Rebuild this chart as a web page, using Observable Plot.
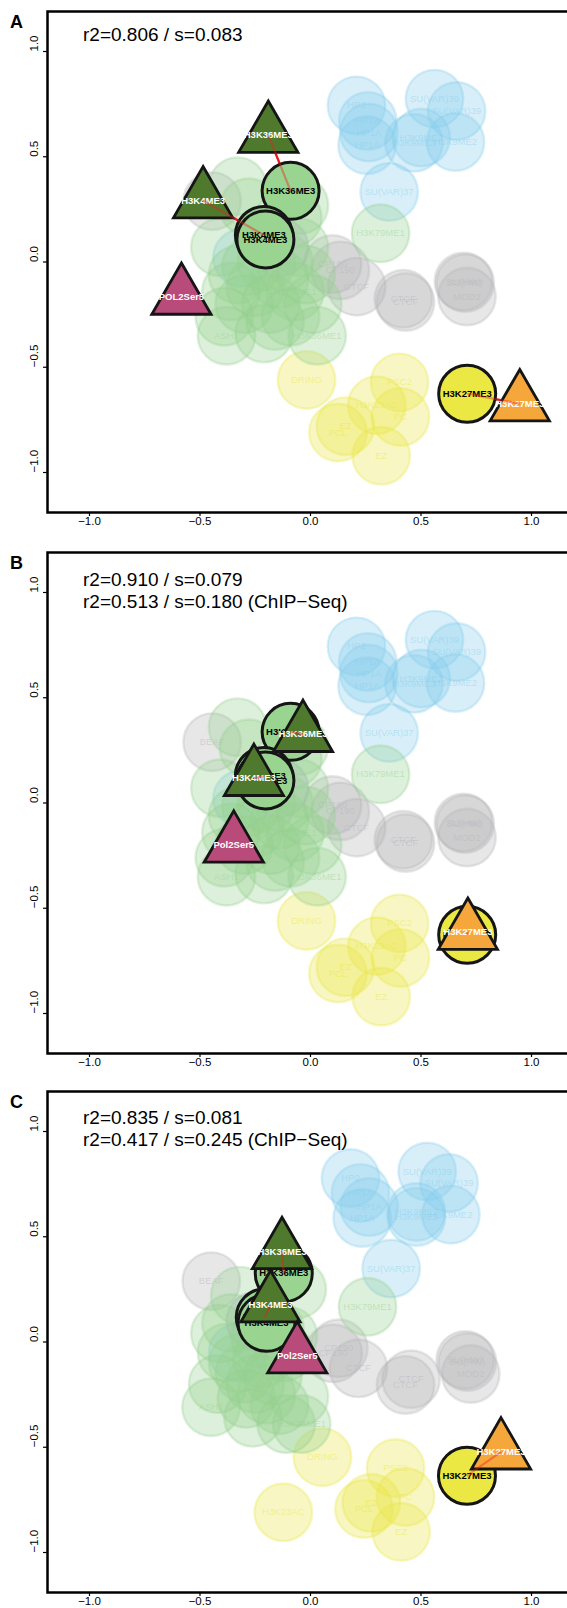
<!DOCTYPE html>
<html><head><meta charset="utf-8">
<script src="https://cdn.jsdelivr.net/npm/d3@7"></script>
<script src="https://cdn.jsdelivr.net/npm/@observablehq/plot@0.6"></script>
<style>
html,body{margin:0;padding:0;background:#fff;overflow:hidden;}
#wrap{position:relative;width:567px;height:1608px;overflow:hidden;background:#fff;}
.panel{position:absolute;left:0;width:567px;height:541px;overflow:hidden;}
.panel svg{max-width:none !important;}
</style></head><body><div id="wrap"></div>
<script>
// ---------- axis ticks ----------
const tickValues = [-1, -0.5, 0, 0.5, 1];
const tickLabels = ["\u22121.0", "\u22120.5", "0.0", "0.5", "1.0"];

// ---------- panel texts ----------
const panelLetters = ["A", "B", "C"];
const statsA = ["r2=0.806 / s=0.083"];
const statsB = ["r2=0.910 / s=0.079", "r2=0.513 / s=0.180 (ChIP\u2212Seq)"];
const statsC = ["r2=0.835 / s=0.081", "r2=0.417 / s=0.245 (ChIP\u2212Seq)"];

// ---------- background factors, embedding of panels A and B ----------
const bgLabelAB = ["HP2","HP1A","HP1A","HP1A","SU(VAR)39","SU(VAR)39","H3K9ME2","H3K9ME3","H3K9ME2","SU(VAR)37","",
  "BEAF","CP190","CP190","CTCF","CTCF","CTCF","SU(HW)","SU(HW)","MOD2",
  "DRING","PSC2","H3K23AC","PC","EZ","PCL","EZ",
  "",
  "H3K79ME1","","","","","","","","DSP1","PHO","H3K4ME1","","","","ASH1","","H3K36ME1","","","","","","","",""];
const bgGroupAB = ["blue","blue","blue","blue","blue","blue","blue","blue","blue","blue","blue",
  "grey","grey","grey","grey","grey","grey","grey","grey","grey",
  "yellow","yellow","yellow","yellow","yellow","yellow","yellow",
  "purple",
  "green","green","green","green","green","green","green","green","green","green","green","green","green","green","green","green","green","green","green","green","green","green","green","green","green"];
const bgXAB = [0.208,0.259,0.264,0.256,0.561,0.661,0.501,0.468,0.656,0.356,-0.31,
  -0.445,0.10,0.135,0.209,0.42,0.43,0.692,0.70,0.708,
  -0.018,0.403,0.30,0.407,0.158,0.124,0.32,
  -0.14,
  0.317,-0.33,-0.28,-0.05,-0.08,-0.41,-0.05,-0.33,-0.14,-0.25,-0.07,-0.18,-0.39,0.01,-0.38,-0.21,0.03,-0.09,-0.27,-0.20,-0.12,-0.36,-0.16,-0.30,-0.02];
const bgYAB = [0.744,0.670,0.615,0.555,0.776,0.717,0.591,0.566,0.570,0.333,0.02,
  0.289,-0.01,-0.04,-0.117,-0.175,-0.19,-0.093,-0.10,-0.164,
  -0.56,-0.572,-0.68,-0.736,-0.78,-0.81,-0.92,
  0.07,
  0.136,0.36,0.26,0.27,0.21,0.07,0.07,-0.06,-0.08,-0.12,-0.14,-0.20,-0.26,-0.20,-0.35,-0.34,-0.35,-0.26,-0.02,0.0,0.0,-0.14,-0.28,-0.20,-0.06];

// ---------- background factors, embedding of panel C ----------
const bgLabelC = ["HP2","HP1A","HP1A","HP1A","SU(VAR)39","SU(VAR)39","H3K9ME2","H3K9ME3","H3K9ME2","SU(VAR)37","",
  "BEAF","CP190","CP190","CTCF","CTCF","CTCF","SU(HW)","SU(HW)","MOD2",
  "DRING","PSC2","H3K23AC","PC","EZ","PCL","EZ",
  "",
  "H3K79ME1","","","","","PHO","","H3K4ME1","ASH1","","","","H3K36ME1","","","","DSP1","","","","","","",""];
const bgGroupC = ["blue","blue","blue","blue","blue","blue","blue","blue","blue","blue","blue",
  "grey","grey","grey","grey","grey","grey","grey","grey","grey",
  "yellow","yellow","yellow","yellow","yellow","yellow","yellow",
  "purple",
  "green","green","green","green","green","green","green","green","green","green","green","green","green","green","green","green","green","green","green","green","green","green","green","green"];
const bgXC = [0.181,0.226,0.266,0.234,0.528,0.627,0.479,0.479,0.635,0.365,-0.33,
  -0.449,0.128,0.103,0.217,0.455,0.43,0.70,0.71,0.725,
  0.054,0.385,-0.123,0.43,0.275,0.242,0.41,
  -0.25,
  0.258,-0.32,-0.06,-0.41,-0.10,-0.33,-0.42,-0.17,-0.45,-0.29,-0.26,-0.11,-0.04,-0.05,-0.23,-0.16,-0.22,-0.36,-0.12,-0.20,-0.30,-0.38,-0.14,-0.25];
const bgYC = [0.779,0.708,0.641,0.589,0.81,0.755,0.618,0.594,0.605,0.349,-0.05,
  0.289,-0.03,-0.054,-0.125,-0.177,-0.204,-0.085,-0.095,-0.152,
  -0.547,-0.599,-0.809,-0.736,-0.764,-0.793,-0.902,
  0.10,
  0.167,0.22,0.25,0.04,0.03,-0.10,-0.20,-0.16,-0.31,-0.27,-0.36,-0.39,-0.39,-0.26,0.02,0.06,-0.08,0.09,-0.05,-0.25,-0.15,-0.05,-0.30,-0.20];

// ---------- highlighted factors (circles) ----------
const hlCircleLabel = ["H3K36ME3","H3K4ME3","H3K4ME3","H3K27ME3"];
const hlCircleGroup = ["green","green","green","yellow"];
const hlCircleXAB = [-0.09,-0.211,-0.204,0.709];
const hlCircleYAB = [0.338,0.128,0.107,-0.626];
const hlCircleXC = [-0.121,-0.207,-0.199,0.708];
const hlCircleYC = [0.326,0.117,0.091,-0.635];

// ---------- projected ChIP profiles (triangles) ----------
const triLabelA = ["H3K36ME3","H3K4ME3","POL2Ser5","H3K27ME3"];
const triLabelBC = ["H3K36ME3","H3K4ME3","Pol2Ser5","H3K27ME3"];
const triGroup = ["dkgreen","dkgreen","magenta","orange"];
const triXA = [-0.191,-0.486,-0.584,0.947];
const triYA = [0.602,0.291,-0.167,-0.673];
const triXB = [-0.034,-0.256,-0.347,0.712];
const triYB = [0.326,0.117,-0.2,-0.614];
const triXC = [-0.129,-0.181,-0.06,0.862];
const triYC = [0.43,0.177,-0.065,-0.522];
const linkTri = [0,1,3];
const linkCircle = [0,1,3];

// ---------- colours ----------
const bgColor = {blue:"#87CEEB", grey:"#b4b4b9", yellow:"#e9e645", purple:"#a898d8", green:"#96d18f"};
const hlColor = {green:"#99d491", yellow:"#ebe843"};
const triColor = {dkgreen:"#4f7a2d", magenta:"#b94b7b", orange:"#f6a73b"};

const FONT = "'Liberation Sans', Arial, Helvetica, sans-serif";

function makePanel(letter, stats, statDy, bgL, bgG, bgX, bgY, cX, cY, tL, tX, tY) {
  const bg = bgL.map((l, i) => ({label: l, color: bgColor[bgG[i]], x: bgX[i], y: bgY[i]}));
  const circles = hlCircleLabel.map((l, i) => ({label: l, color: hlColor[hlCircleGroup[i]], x: cX[i], y: cY[i]}));
  const tris = tL.map((l, i) => ({label: l, color: triColor[triGroup[i]], x: tX[i], y: tY[i]}));
  const links = linkTri.map((t, i) => ({x1: tX[t], y1: tY[t], x2: cX[linkCircle[i]], y2: cY[linkCircle[i]]}));
  const marks = [
    Plot.dot(bg, {x: "x", y: "y", r: 28.8, fill: "color", fillOpacity: 0.32, stroke: "color", strokeOpacity: 0.32, strokeWidth: 2.4}),
    Plot.text(bg, {x: "x", y: "y", text: "label", fill: "color", fillOpacity: 0.45, fontSize: 9.5}),
    Plot.link(links, {x1: "x1", y1: "y1", x2: "x2", y2: "y2", stroke: "#ee1c1c", strokeWidth: 2.2}),
    Plot.dot(circles, {x: "x", y: "y", r: 28.5, fill: "color", stroke: "#151515", strokeWidth: 3}),
    Plot.text(circles, {x: "x", y: "y", text: "label", fill: "black", fontWeight: "bold", fontSize: 9.5}),
    Plot.dot(tris, {x: "x", y: "y", r: 22, symbol: "triangle", fill: "color", stroke: "#151515", strokeWidth: 2.8, strokeLinejoin: "miter"}),
    Plot.text(tris, {x: "x", y: "y", text: "label", fill: "white", fontWeight: "bold", fontSize: 9.5}),
    Plot.link(links, {x1: "x1", y1: "y1", x2: "x2", y2: "y2", stroke: "#ee1c1c", strokeOpacity: 0.4, strokeWidth: 2.2}),
    Plot.frame({stroke: "black", strokeWidth: 2.5}),
    Plot.axisX({ticks: tickValues, tickFormat: d => tickLabels[tickValues.indexOf(d)], tickSize: 4, tickPadding: 0.5, fontSize: 11.5, strokeWidth: 1.2}),
    Plot.axisY({ticks: tickValues, tickFormat: () => "", tickSize: 4, strokeWidth: 1.2}),
    Plot.text(tickValues, {y: d => d, text: d => tickLabels[tickValues.indexOf(d)], frameAnchor: "left", dx: -13, rotate: -90, fontSize: 11.5, fill: "black"}),
    Plot.text([letter], {frameAnchor: "top-left", dx: -31, dy: 16, lineAnchor: "bottom", textAnchor: "middle", fontWeight: "bold", fontSize: 18, fill: "black"})
  ];
  stats.forEach((s, i) => {
    marks.push(Plot.text([s], {frameAnchor: "top-left", dx: 35.5, dy: statDy[i], lineAnchor: "bottom", textAnchor: "start", fontSize: 19, fill: "black"}));
  });
  return Plot.plot({
    width: 580, height: 541,
    marginLeft: 47, marginRight: 7, marginTop: 11, marginBottom: 29,
    x: {domain: [-1.19, 1.19], axis: null},
    y: {domain: [-1.19, 1.19], axis: null},
    color: {type: "identity"},
    style: {fontFamily: FONT, background: "white", overflow: "visible", maxWidth: "none"},
    marks
  });
}

const wrap = document.getElementById("wrap");
const panels = [
  makePanel(panelLetters[0], statsA, [29.5], bgLabelAB, bgGroupAB, bgXAB, bgYAB, hlCircleXAB, hlCircleYAB, triLabelA, triXA, triYA),
  makePanel(panelLetters[1], statsB, [33, 55.5], bgLabelAB, bgGroupAB, bgXAB, bgYAB, hlCircleXAB, hlCircleYAB, triLabelBC, triXB, triYB),
  makePanel(panelLetters[2], statsC, [32, 54.7], bgLabelC, bgGroupC, bgXC, bgYC, hlCircleXC, hlCircleYC, triLabelBC, triXC, triYC)
];
const tops = [0, 541, 1080];
panels.forEach((p, i) => {
  const d = document.createElement("div");
  d.className = "panel";
  d.style.top = tops[i] + "px";
  d.appendChild(p);
  wrap.appendChild(d);
});
</script></body></html>
